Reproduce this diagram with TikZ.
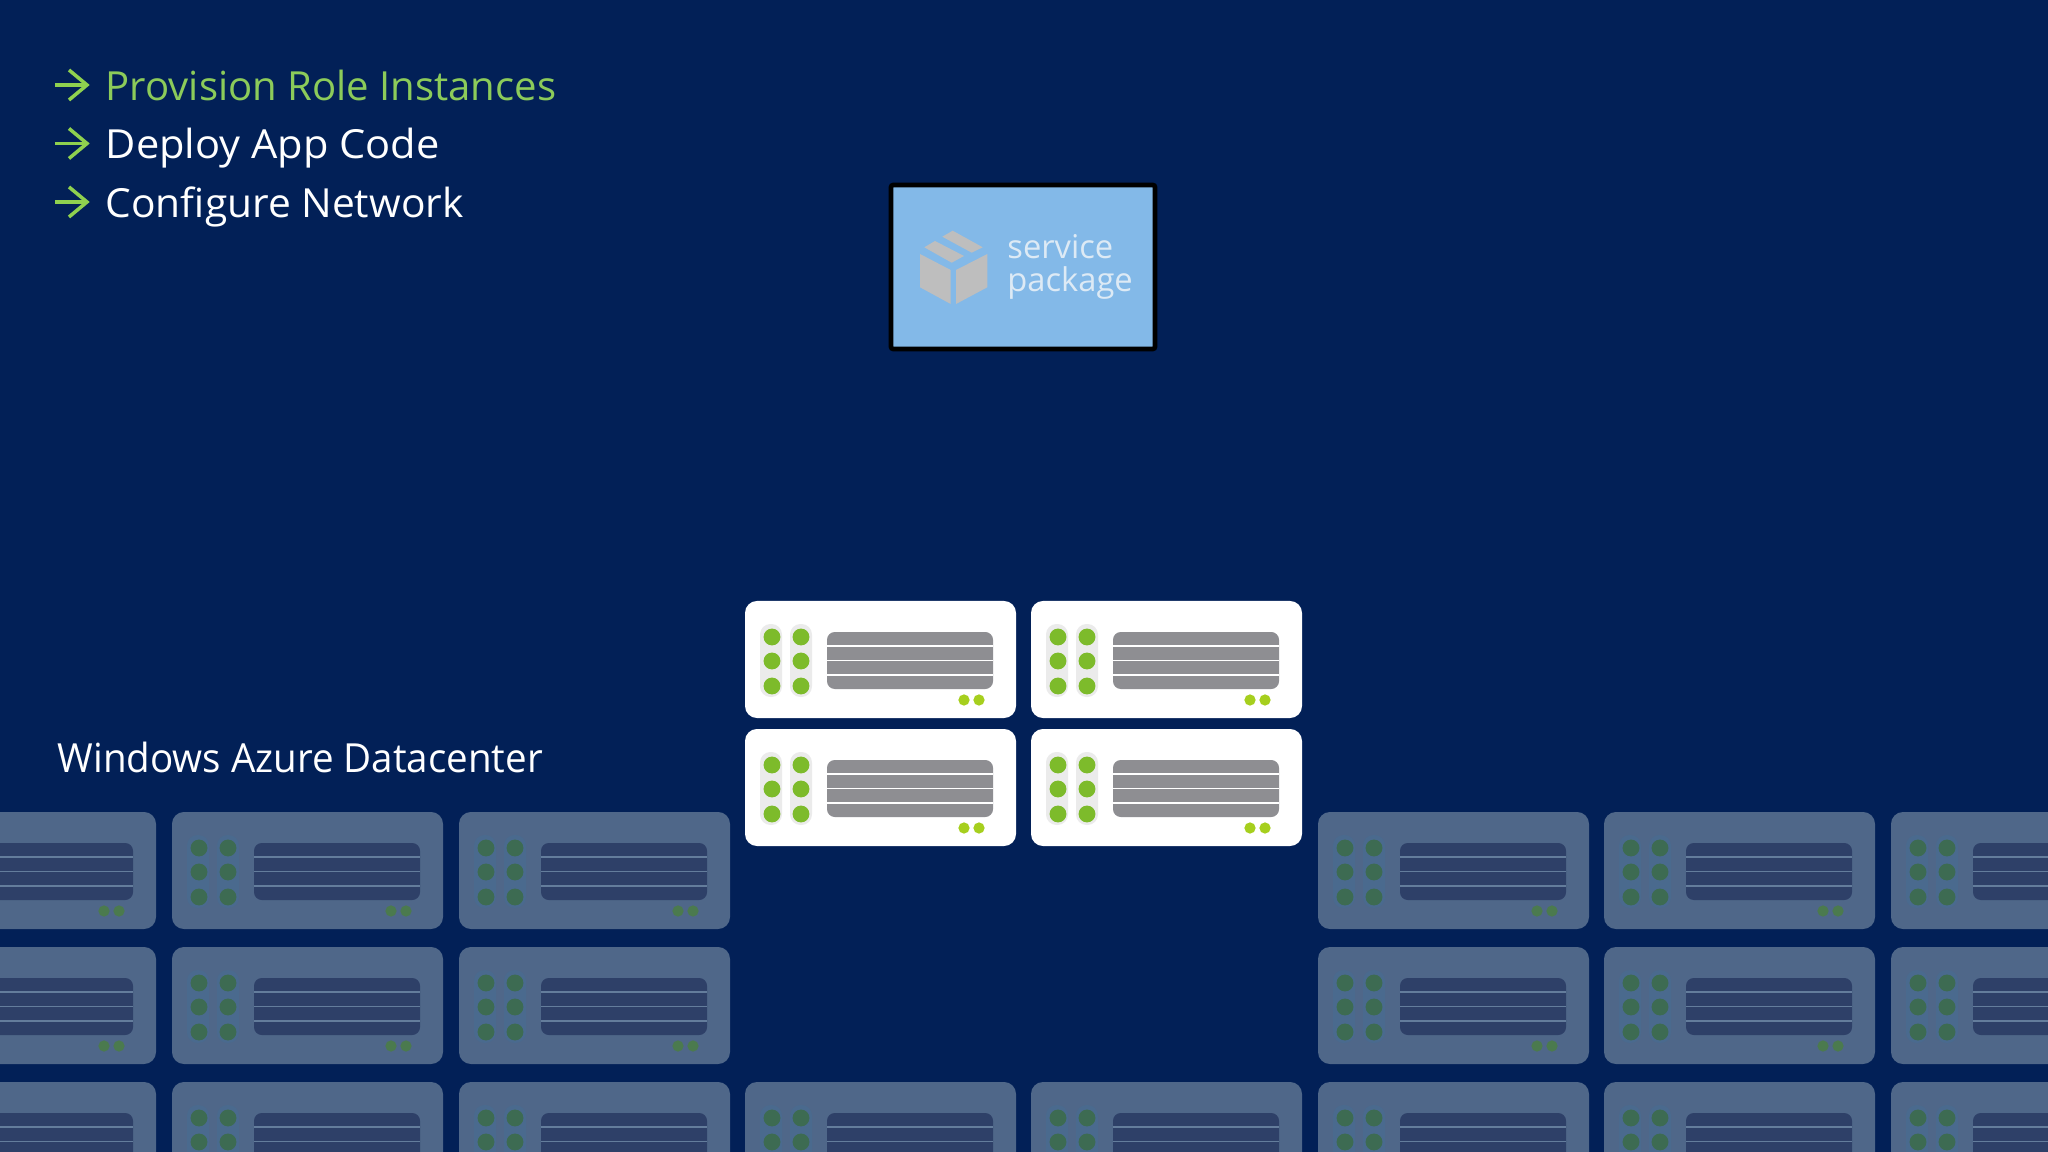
\documentclass[tikz,border=0pt]{standalone}
\usepackage{fontspec}
\setmainfont{Open Sans}
\definecolor{pagebg}{HTML}{022057}
\definecolor{itemgreen}{HTML}{8CCB5A}
\definecolor{tipgreen}{HTML}{8FD14F}
\definecolor{pkgblue}{HTML}{83B9E8}
\definecolor{pkgtext}{HTML}{DDEAF5}
\definecolor{pkgicon}{HTML}{BEBEBE}
\definecolor{dotgreen}{HTML}{7DBB2B}
\definecolor{ledgreen}{HTML}{A6CF1E}
\definecolor{barsgray}{HTML}{8E8E92}
\definecolor{dimbody}{HTML}{4F6789}
\definecolor{dimpill}{HTML}{4A6A8E}
\definecolor{dimdot}{HTML}{3D6B52}
\definecolor{dimbar}{HTML}{2E4068}
\definecolor{dimgap}{HTML}{647D9C}
\definecolor{dimled}{HTML}{4B7A4E}
\tikzset{
    x=0.01cm, y=-0.01cm,
    lit body/.style={fill=white},
    lit pill/.style={fill=black!8},
    lit dot/.style={fill=dotgreen},
    lit bar/.style={fill=barsgray},
    lit gap/.style={draw=white},
    lit led/.style={fill=ledgreen},
    dim body/.style={fill=dimbody},
    dim pill/.style={fill=dimpill},
    dim dot/.style={fill=dimdot},
    dim bar/.style={fill=dimbar},
    dim gap/.style={draw=dimgap},
    dim led/.style={fill=dimled},
    rack/.pic={
        \fill[#1 body, rounded corners=3.4pt] (0,0) rectangle (271,117);
        \foreach \px in {15,45} {
            \fill[#1 pill, rounded corners=3pt] (\px,23) rectangle +(22,73);
        }
        \foreach \px in {27,56} {
            \foreach \py in {36,60,85} {
                \fill[#1 dot] (\px,\py) circle (2.4pt);
            }
        }
        \fill[#1 bar, rounded corners=2.2pt] (82,31) rectangle (248,88);
        \foreach \py in {45,59.5,74} {
            \draw[#1 gap, line width=0.55pt] (82,\py) -- (248,\py);
        }
        \fill[#1 led] (219,99) circle (1.6pt);
        \fill[#1 led] (234,99) circle (1.6pt);
    },
    item/.style={anchor=base west, font=\fontsize{11.4pt}{13pt}\selectfont, inner sep=0pt, transform shape},
    tip/.style={draw=tipgreen, line width=1pt, miter limit=10},
    pkg label/.style={anchor=base west, text=pkgtext, inner sep=0pt, font=\fontsize{9.3pt}{11pt}\selectfont},
}

\begin{document}
\begin{tikzpicture}
        \clip (0,0) rectangle (2048,1152);
        \fill[pagebg] (0,0) rectangle (2048,1152);

        % faded racks of the datacenter
        \foreach \cx in {-115,172,459,1318,1604,1891} {
            \foreach \cy in {812,947} {
                \pic at (\cx,\cy) {rack=dim};
            }
        }
        \foreach \cx in {-115,172,459,745,1031,1318,1604,1891} {
            \pic at (\cx,1082) {rack=dim};
        }

        % allocated racks
        \foreach \cx in {745,1031} {
            \foreach \cy in {601,729} {
                \pic at (\cx,\cy) {rack=lit};
            }
        }

        % list top left
        \node[item, text=itemgreen] (provision) at (105,100.3) {Provision Role Instances};
        \node[item, text=white, xscale=1.037] (deploy) at (105,158.3) {Deploy App Code};
        \node[item, text=white, xscale=1.015] (configure) at (105,217.3) {Configure Network};
        \foreach \ty in {85,143.5,202} {
            \draw[tip] (55,\ty) -- (87,\ty);
            \draw[tip] (69,\ty-15) -- (87,\ty) -- (69,\ty+15);
        }

        \node[item, text=white, xscale=0.961] (datacenter) at (57,772) {Windows Azure Datacenter};

        % service package
        \draw[fill=pkgblue, draw=black, line width=1.3pt, rounded corners=0.6pt] (891,185) rectangle (1155,349);
        \fill[pkgicon] (924.3,247.3) -- (935,241) -- (964,256) -- (951.7,262.7) -- cycle;
        \fill[pkgicon] (942.3,236.7) -- (952.7,230.7) -- (982.7,247.3) -- (971.7,252.7) -- cycle;
        \fill[pkgicon] (920,254) -- (950.7,270) -- (950.7,304) -- (920,287.3) -- cycle;
        \fill[pkgicon] (956,270) -- (987.3,254) -- (987.3,287.3) -- (956,304) -- cycle;
        \node[pkg label] (service) at (1006.7,259) {service};
        \node[pkg label] (package) at (1006.7,292) {package};
\end{tikzpicture}
\end{document}
